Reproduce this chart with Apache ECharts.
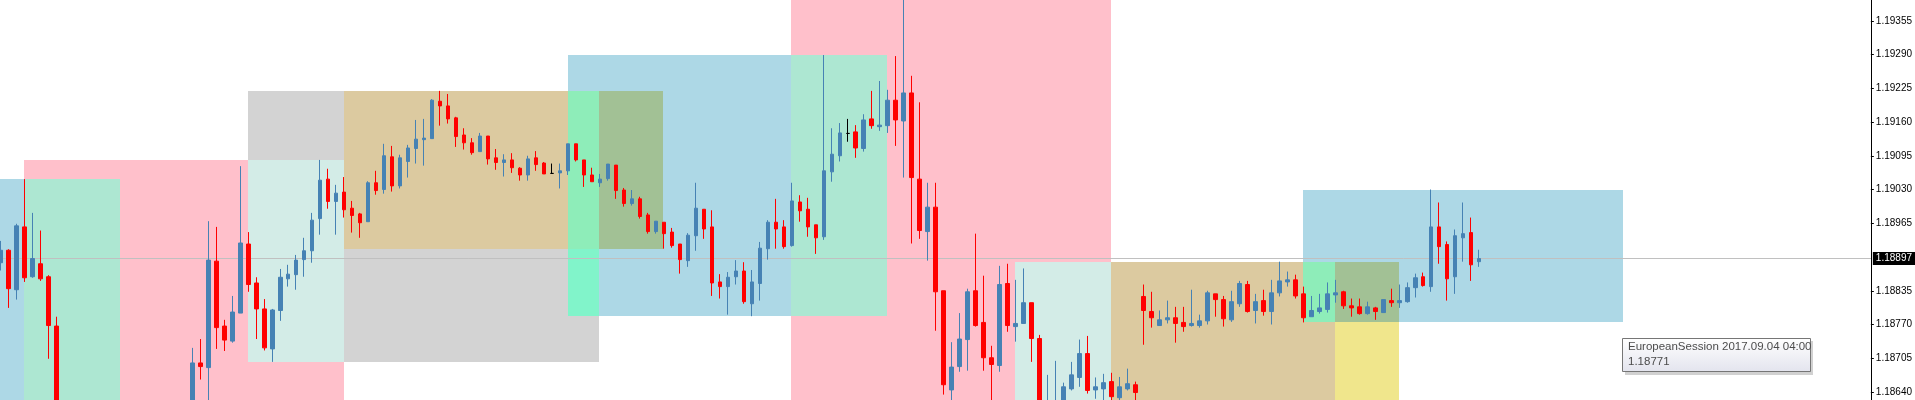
<!DOCTYPE html>
<html><head><meta charset="utf-8">
<script src="https://cdn.jsdelivr.net/npm/echarts@6/dist/echarts.min.js"></script>
<style>html,body{margin:0;padding:0;background:#fff}#c{width:1915px;height:400px}</style>
</head><body><div id="c"></div>
<script>
// ---- candle data (EURUSD M15), null = below the visible window ----
const opens = [
1.18889,1.18913,1.18837,1.18958,1.18862,1.18887,1.18862,1.18767,null,null,
null,null,null,null,null,null,null,null,null,null,
null,null,null,null,1.18600,1.18696,1.18687,1.18892,1.18767,1.18738,
1.18792,1.18925,1.18850,1.18800,1.18723,1.18797,1.18858,1.18866,1.18895,1.18912,
1.18974,1.19050,1.19007,1.19025,1.18994,1.18983,1.18968,1.19043,1.19030,1.19093,
1.19037,1.19084,1.19109,1.19126,1.19128,1.19200,1.19191,1.19168,1.19135,1.19120,
1.19103,1.19133,1.19091,1.19082,1.19087,1.19071,1.19058,1.19091,1.19081,1.19061,
1.19062,1.19066,1.19118,1.19087,1.19058,1.19043,1.19051,1.19077,1.19029,1.19003,
1.19012,1.18981,1.18949,1.18967,1.18948,1.18925,1.18893,1.18941,1.18992,1.18958,
1.18852,1.18843,1.18862,1.18873,1.18810,1.18849,1.18916,1.18967,1.18958,1.18922,
1.19006,1.18992,1.18962,1.18939,1.19064,1.19095,1.19138,1.19141,1.19109,1.19166,
1.19151,1.19153,1.19202,1.19162,1.19216,1.19050,1.18949,1.18996,1.18835,1.18644,
1.18689,1.18741,1.18835,1.18774,1.18706,1.18691,1.18849,1.18766,1.18772,1.18812,
1.18743,1.18600,1.18598,1.18612,1.18646,1.18668,1.18714,1.18644,1.18646,1.18660,
1.18629,1.18646,1.18654,1.18824,1.18795,1.18768,1.18779,1.18783,1.18774,1.18768,
1.18768,1.18777,1.18829,1.18818,1.18779,1.18810,1.18847,1.18797,1.18816,1.18795,
1.18831,1.18852,1.18856,1.18829,1.18785,1.18795,1.18799,1.18827,1.18833,1.18806,
1.18804,1.18791,1.18802,1.18793,1.18816,1.18812,1.18814,1.18841,1.18862,1.18843,
1.18958,1.18924,1.18862,1.18937,1.18947,1.18891];
const highs = [
1.18931,1.18915,1.18964,1.19050,1.18985,1.18951,1.18865,1.18785,null,null,
null,null,null,null,null,null,null,null,null,null,
null,null,null,null,1.18725,1.18742,1.18969,1.18958,1.18779,1.18825,
1.19075,1.18948,1.18861,1.18819,1.18800,1.18877,1.18885,1.18904,1.18937,1.18985,
1.19087,1.19070,1.19039,1.19054,1.19008,1.18985,1.19046,1.19066,1.19118,1.19114,
1.19097,1.19116,1.19164,1.19166,1.19204,1.19220,1.19214,1.19170,1.19148,1.19129,
1.19139,1.19133,1.19108,1.19098,1.19100,1.19073,1.19095,1.19104,1.19083,1.19080,
1.19080,1.19118,1.19118,1.19087,1.19072,1.19060,1.19079,1.19077,1.19033,1.19029,
1.19016,1.18985,1.18969,1.18967,1.18956,1.18925,1.18946,1.19043,1.18992,1.18990,
1.18867,1.18871,1.18894,1.18890,1.18875,1.18929,1.18971,1.19012,1.18971,1.19043,
1.19019,1.19014,1.18962,1.19289,1.19148,1.19158,1.19166,1.19154,1.19175,1.19220,
1.19239,1.19222,1.19287,1.19405,1.19249,1.19198,1.19043,1.19043,1.18835,1.18736,
1.18792,1.18839,1.18945,1.18864,1.18729,1.18883,1.18887,1.18856,1.18878,1.18812,
1.18750,1.18673,1.18700,1.18658,1.18698,1.18741,1.18748,1.18668,1.18675,1.18677,
1.18669,1.18685,1.18660,1.18847,1.18833,1.18797,1.18816,1.18804,1.18804,1.18837,
1.18789,1.18835,1.18829,1.18825,1.18835,1.18854,1.18854,1.18829,1.18837,1.18856,
1.18891,1.18872,1.18866,1.18843,1.18825,1.18829,1.18851,1.18856,1.18835,1.18820,
1.18820,1.18814,1.18804,1.18818,1.18839,1.18847,1.18851,1.18868,1.18870,1.19030,
1.19005,1.18930,1.18953,1.19005,1.18976,1.18914];
const lows = [
1.18874,1.18802,1.18818,1.18852,1.18860,1.18854,1.18704,1.18575,null,null,
null,null,null,null,null,null,null,null,null,null,
null,null,null,null,1.18590,1.18664,1.18615,1.18723,1.18719,1.18735,
1.18792,1.18833,1.18742,1.18720,1.18698,1.18777,1.18843,1.18837,1.18862,1.18889,
1.18943,1.18993,1.18943,1.18976,1.18947,1.18937,1.18968,1.19020,1.19022,1.19026,
1.19032,1.19053,1.19080,1.19076,1.19128,1.19153,1.19157,1.19112,1.19107,1.19097,
1.19103,1.19078,1.19068,1.19055,1.19062,1.19047,1.19047,1.19066,1.19060,1.19061,
1.19032,1.19058,1.19084,1.19035,1.19045,1.19035,1.19047,1.19012,1.18997,1.18999,
1.18974,1.18945,1.18945,1.18916,1.18918,1.18868,1.18881,1.18912,1.18935,1.18825,
1.18820,1.18789,1.18847,1.18810,1.18786,1.18816,1.18895,1.18916,1.18916,1.18920,
1.18968,1.18939,1.18906,1.18933,1.19045,1.19084,1.19122,1.19091,1.19103,1.19147,
1.19143,1.19139,1.19114,1.19053,1.18926,1.18935,1.18893,1.18758,1.18635,1.18610,
1.18679,1.18681,1.18766,1.18681,1.18615,1.18679,1.18756,1.18737,1.18772,1.18698,
1.18590,1.18590,1.18590,1.18605,1.18643,1.18650,1.18637,1.18627,1.18620,1.18623,
1.18623,1.18643,1.18615,1.18731,1.18764,1.18768,1.18772,1.18735,1.18756,1.18766,
1.18764,1.18770,1.18785,1.18766,1.18775,1.18804,1.18793,1.18772,1.18787,1.18770,
1.18824,1.18843,1.18820,1.18774,1.18785,1.18791,1.18793,1.18812,1.18800,1.18785,
1.18789,1.18789,1.18779,1.18793,1.18804,1.18802,1.18812,1.18822,1.18843,1.18833,
1.18887,1.18816,1.18829,1.18891,1.18854,1.18881];
const closes = [
1.18913,1.18839,1.18960,1.18860,1.18897,1.18858,1.18768,1.18590,null,null,
null,null,null,null,null,null,null,null,null,null,
null,null,null,null,1.18696,1.18689,1.18894,1.18764,1.18740,1.18794,
1.18927,1.18847,1.18800,1.18725,1.18798,1.18861,1.18867,1.18894,1.18912,1.18971,
1.19048,1.19007,1.19023,1.18991,1.18980,1.18966,1.19043,1.19028,1.19095,1.19037,
1.19091,1.19110,1.19127,1.19129,1.19202,1.19191,1.19166,1.19132,1.19120,1.19101,
1.19133,1.19089,1.19082,1.19087,1.19072,1.19058,1.19089,1.19078,1.19060,1.19061,
1.19066,1.19118,1.19087,1.19058,1.19045,1.19050,1.19079,1.19028,1.19003,1.19012,
1.18978,1.18949,1.18969,1.18945,1.18922,1.18895,1.18942,1.18994,1.18954,1.18850,
1.18843,1.18861,1.18873,1.18814,1.18852,1.18917,1.18967,1.18954,1.18920,1.19008,
1.18989,1.18958,1.18937,1.19066,1.19098,1.19139,1.19138,1.19110,1.19164,1.19153,
1.19154,1.19202,1.19164,1.19216,1.19053,1.18951,1.18996,1.18833,1.18654,1.18688,
1.18742,1.18833,1.18768,1.18706,1.18693,1.18847,1.18768,1.18772,1.18812,1.18743,
1.18600,1.18620,1.18615,1.18650,1.18673,1.18714,1.18643,1.18650,1.18658,1.18631,
1.18650,1.18656,1.18639,1.18797,1.18783,1.18779,1.18783,1.18772,1.18766,1.18772,
1.18777,1.18831,1.18818,1.18781,1.18814,1.18849,1.18795,1.18814,1.18795,1.18831,
1.18854,1.18856,1.18825,1.18783,1.18797,1.18802,1.18829,1.18831,1.18806,1.18802,
1.18791,1.18804,1.18795,1.18818,1.18812,1.18816,1.18841,1.18860,1.18845,1.18958,
1.18920,1.18858,1.18941,1.18945,1.18885,1.18897];
const totalSlots = 235; // candle slots incl. empty right margin

// ---- session rectangles (bar index start/end, price high/low) ----
const sessName  = ['EuropeanSession','AmericanSession','AsianSession','PacificSession','EuropeanSession','AmericanSession','AsianSession','PacificSession','EuropeanSession'];
const sessStart = [-25, 3, 31, 43, 71, 99, 127, 139, 163];
const sessEnd   = [15, 43, 75, 83, 111, 139, 167, 175, 203];
const sessHigh  = [1.19050, 1.19087, 1.19220, 1.19220, 1.19289, 1.19405, 1.18890, 1.18890, 1.19029];
const sessLow   = [1.18500, 1.18500, 1.18698, 1.18916, 1.18786, 1.18500, 1.18500, 1.18500, 1.18774];
const sessColor = ['#ADD8E6','#FFC0CB','#D3D3D3','#F0E68C','#ADD8E6','#FFC0CB','#D3D3D3','#F0E68C','#ADD8E6'];

// ---- price axis ----
const priceTicks = [1.18640,1.18705,1.18770,1.18835,1.18965,1.19030,1.19095,1.19160,1.19225,1.19290,1.19355];
const priceMin = 1.186246, priceMax = 1.193950;
const lastPrice = 1.18897;
const tipTitle = 'EuropeanSession 2017.09.04 04:00';
const tipValue = '1.18771';

// build candle data
const cats = [], candles = [];
for (let i = 0; i < totalSlots; i++) {
  cats.push(String(i));
  if (i < opens.length && opens[i] != null) candles.push([opens[i], closes[i], lows[i], highs[i]]);
  else candles.push('-');
}
// overlapping rectangles are combined XOR-style (as the terminal draws them)
function buildCells() {
  const xs = [...new Set(sessStart.map(v => Math.max(v, -1)).concat(sessEnd))].sort((a, b) => a - b);
  const ys = [...new Set(sessHigh.concat(sessLow))].sort((a, b) => a - b);
  const cells = [];
  for (let a = 0; a < xs.length - 1; a++) {
    for (let b = 0; b < ys.length - 1; b++) {
      const cx = (xs[a] + xs[a + 1]) / 2, cy = (ys[b] + ys[b + 1]) / 2;
      let acc = 0xFFFFFF, hit = false;
      for (let k = 0; k < sessStart.length; k++) {
        if (cx > sessStart[k] && cx < sessEnd[k] && cy > sessLow[k] && cy < sessHigh[k]) {
          acc ^= (parseInt(sessColor[k].slice(1), 16) ^ 0xFFFFFF); hit = true;
        }
      }
      if (hit) cells.push({ value: [xs[a], xs[a + 1], ys[b], ys[b + 1]], itemStyle: { color: '#' + acc.toString(16).padStart(6, '0') } });
    }
  }
  return cells;
}

const FONT = 'Liberation Sans';
const chart = echarts.init(document.getElementById('c'), null, { renderer: 'canvas' });
chart.setOption({
  animation: false,
  backgroundColor: '#ffffff',
  grid: { left: 0.5, right: 43, top: 0, bottom: 0, containLabel: false },
  xAxis: { type: 'category', data: cats, boundaryGap: false, show: false },
  yAxis: {
    type: 'value', position: 'right', min: priceMin, max: priceMax, scale: true,
    axisLine: { show: true, lineStyle: { color: '#000', width: 1 } },
    axisTick: { show: true, length: 3, customValues: priceTicks, lineStyle: { color: '#000' } },
    axisLabel: { customValues: priceTicks, formatter: v => v.toFixed(5), color: '#000', fontFamily: FONT, fontSize: 10, margin: 5 },
    splitLine: { show: false }
  },
  series: [
    {
      type: 'custom', z: 1, silent: true,
      encode: { x: [0, 1], y: [2, 3] },
      data: buildCells(),
      renderItem: function (params, api) {
        const a = api.coord([api.value(0), api.value(3)]);
        const b = api.coord([api.value(1), api.value(2)]);
        const x0 = Math.round(a[0] - 0.5), x1 = Math.round(b[0] - 0.5);
        const y0 = Math.round(a[1]), y1 = Math.round(b[1]);
        return { type: 'rect', shape: { x: x0, y: y0, width: x1 - x0, height: y1 - y0 }, style: { fill: api.visual('color') } };
      }
    },
    {
      type: 'candlestick', z: 4, data: candles, barWidth: 4,
      itemStyle: { color: '#4682B4', color0: '#FF0000', borderColor: '#4682B4', borderColor0: '#FF0000', borderColorDoji: '#000000', borderWidth: 1 },
      markLine: {
        silent: true, z: 3, symbol: ['none', 'none'], precision: 5,
        data: [{ yAxis: lastPrice }],
        lineStyle: { color: '#C0C0C0', width: 1, type: 'solid' },
        label: { show: true, position: 'end', distance: 2, formatter: lastPrice.toFixed(5), color: '#fff', backgroundColor: '#000', padding: [2, 3, 1, 3], fontFamily: FONT, fontSize: 10 }
      }
    }
  ],
  graphic: [{
    type: 'group', x: 1622, y: 338, silent: true, z: 100,
    children: [
      { type: 'rect', shape: { x: 3, y: 3, width: 188, height: 34 }, style: { fill: 'rgba(0,0,0,0.18)' } },
      { type: 'rect', shape: { x: 0.5, y: 0.5, width: 188, height: 33 }, style: { fill: new echarts.graphic.LinearGradient(0, 0, 0, 1, [{ offset: 0, color: '#ffffff' }, { offset: 1, color: '#e3e4ee' }]), stroke: '#767676', lineWidth: 1 } },
      { type: 'text', x: 6, y: 3, style: { text: tipTitle, font: '11.5px "' + FONT + '"', fill: '#4c4c4c' } },
      { type: 'text', x: 6, y: 18, style: { text: tipValue, font: '11.5px "' + FONT + '"', fill: '#4c4c4c' } }
    ]
  }]
});
</script></body></html>
